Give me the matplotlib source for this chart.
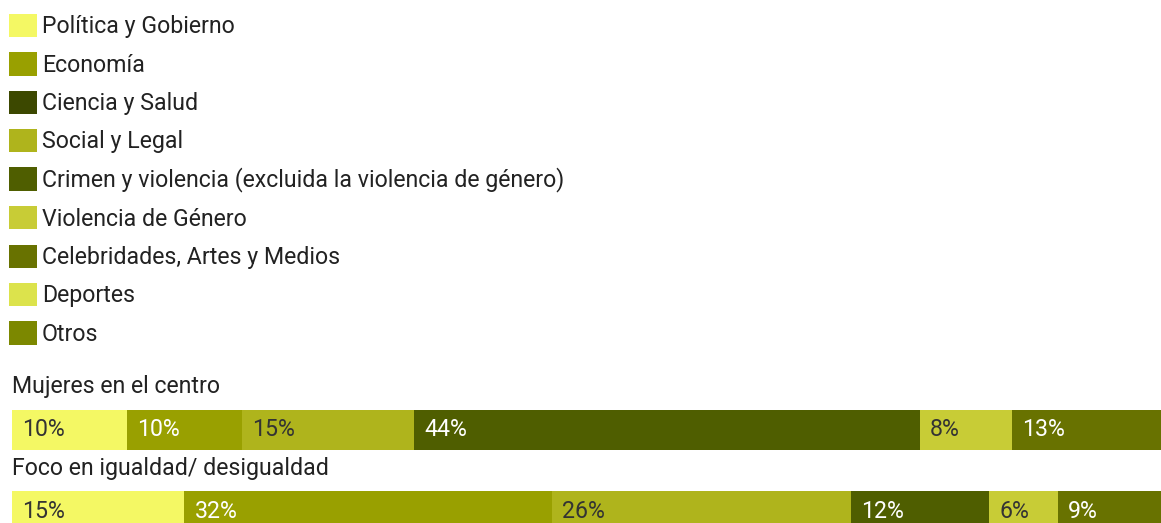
import matplotlib
matplotlib.use("Agg")
import matplotlib.pyplot as plt
from matplotlib.patches import Patch

plt.rcParams['font.family'] = ['Roboto', 'DejaVu Sans']

categorias = ["Política y Gobierno", "Economía", "Ciencia y Salud", "Social y Legal",
              "Crimen y violencia (excluida la violencia de género)", "Violencia de Género",
              "Celebridades, Artes y Medios", "Deportes", "Otros"]
colores = ["#F4F864", "#99A000", "#3C4800", "#AFB41C", "#4F5E00",
           "#C8CC36", "#687200", "#DCE34C", "#7C8800"]

grupos = ["Mujeres en el centro", "Foco en igualdad/ desigualdad"]
# porcentajes por tema (mismo orden que categorias)
mujeres_centro = [10, 10, 0, 15, 44, 8, 13, 0, 0]
foco_igualdad = [15, 32, 0, 26, 12, 6, 9, 0, 0]

# texto claro sobre los tonos oscuros
texto_claro = {"#99A000", "#3C4800", "#4F5E00", "#687200", "#7C8800"}

FS = 16.7
W, H = 1161, 523
fig = plt.figure(figsize=(W / 100, H / 100), dpi=100)
ax = fig.add_axes([12 / W, 0, (W - 12) / W, 1])
ax.set_xlim(0, 100)
ax.set_ylim(H, 0)
ax.axis("off")

filas = [(grupos[0], mujeres_centro, 386, 429.5), (grupos[1], foco_igualdad, 469, 511)]
for titulo, valores, y_tit, y_bar in filas:
    ax.text(0, y_tit, titulo, fontsize=FS, color="#222222", va="center", ha="left")
    izq = 0
    for v, c in zip(valores, colores):
        if v == 0:
            continue
        ax.barh(y_bar, v, left=izq, height=40, color=c, edgecolor="none")
        ax.annotate(f"{v}%", xy=(izq, y_bar), xytext=(7.5, 0), textcoords="offset points",
                    va="center", ha="left", fontsize=FS,
                    color="white" if c in texto_claro else "#333333")
        izq += v

handles = [Patch(facecolor=c, edgecolor="none", label=n) for n, c in zip(categorias, colores)]
fig.legend(handles=handles, loc="upper left", bbox_to_anchor=(9 / W, 1 - 14 / H),
           frameon=False, fontsize=FS, handlelength=1.2, handleheight=1.16,
           handletextpad=0.22, labelspacing=0.6, borderpad=0, borderaxespad=0,
           labelcolor="#222222")

fig.savefig("out.png", dpi=100)
